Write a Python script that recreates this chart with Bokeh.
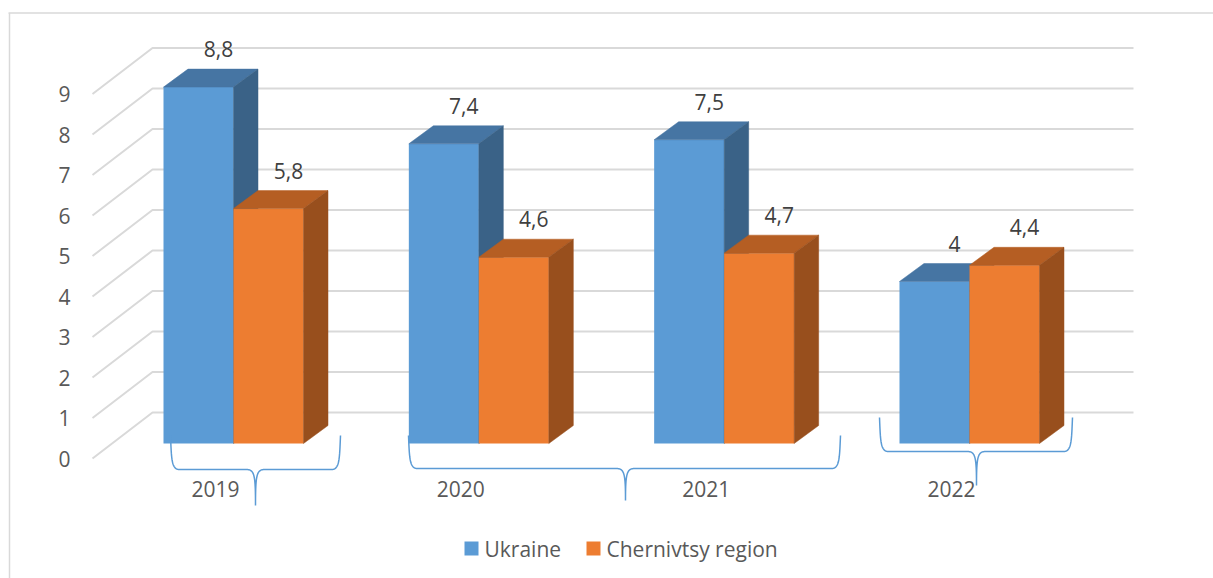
import numpy as np
from bokeh.plotting import figure
from bokeh.models import Range1d
from bokeh.core.properties import value
from bokeh.embed import file_html
from bokeh.resources import INLINE

# ---------------- data ----------------
categories = ["2019", "2020", "2021", "2022"]
series_names = ["Ukraine", "Chernivtsy region"]
ukraine = [8.8, 7.4, 7.5, 4.0]
chernivtsy = [5.8, 4.6, 4.7, 4.4]
ukraine_labels = ["8,8", "7,4", "7,5", "4"]
chernivtsy_labels = ["5,8", "4,6", "4,7", "4,4"]
y_ticks = [0, 1, 2, 3, 4, 5, 6, 7, 8, 9]
y_tick_labels = [str(t) for t in y_ticks]

# ---------------- geometry / style ----------------
PAGE_OFF = 0              # observed page offset of the figure
W, H = 1213, 578
SLOT_PX = 245.33          # px per category slot
UNIT_PX = 40.5            # px per value unit
ORIGIN_X = 233            # page x of slot 0 centre
ORIGIN_Y = 443            # page y of value 0 (bar baseline)


def px2x(sx):
    return (sx - ORIGIN_X) / SLOT_PX


def px2y(sy):
    return (ORIGIN_Y - sy) / UNIT_PX


def dxp(px):
    return px / SLOT_PX


def dyp(px):
    return px / UNIT_PX


FONT = value("Open Sans")
GREY_TXT = "#595959"
LABEL_TXT = "#404040"
GRID = "#D9D9D9"

p = figure(width=W, height=H, output_backend="svg", toolbar_location=None,
           x_range=Range1d(px2x(PAGE_OFF), px2x(PAGE_OFF + W)),
           y_range=Range1d(px2y(PAGE_OFF + H), px2y(PAGE_OFF)),
           min_border=0)
p.xaxis.visible = False
p.yaxis.visible = False
p.grid.visible = False
p.outline_line_color = None
p.background_fill_color = "white"
p.border_fill_color = "white"

# chart border (top and left visible)
p.line([px2x(8), px2x(1213)], [px2y(12.5), px2y(12.5)], line_color=GRID, line_width=1.5)
p.line([px2x(9), px2x(9)], [px2y(12.5), px2y(578)], line_color=GRID, line_width=1.5)

# 3D back-wall gridlines
f_off = dyp(-15)
b_off = dyp(31)
gxs, gys = [], []
for t in y_ticks:
    gxs.append([px2x(92), px2x(152), px2x(1133)])
    gys.append([t + f_off, t + b_off, t + b_off])
p.multi_line(gxs, gys, line_color=GRID, line_width=2)

# tick labels
p.text(x=[px2x(70)] * len(y_ticks), y=[t + f_off for t in y_ticks], text=y_tick_labels,
       text_font=FONT, text_font_size="21px", text_color=GREY_TXT,
       text_align="right", text_baseline="middle")

# 3D bars
bw = dxp(70)
ddx = dxp(24.5)
ddy = dyp(18)

series = [
    (ukraine, ukraine_labels, ("#5B9BD5", "#4675A3", "#3A6287"), -1),
    (chernivtsy, chernivtsy_labels, ("#ED7D31", "#B55E23", "#984F1D"), 0),
]
for vals, labels, (cf, ct, cs), shift in series:
    lefts = [i + shift * bw for i in range(len(categories))]
    rights = [l + bw for l in lefts]
    p.quad(left=lefts, right=rights, bottom=0, top=vals, fill_color=cf, line_color=None)
    txs, tys, sxs, sys_ = [], [], [], []
    for l, r, v in zip(lefts, rights, vals):
        txs.append([l, l + ddx, r + ddx, r])
        tys.append([v, v + ddy, v + ddy, v])
        sxs.append([r, r, r + ddx, r + ddx])
        sys_.append([0, v, v + ddy, ddy])
    p.patches(txs, tys, fill_color=ct, line_color=ct, line_width=0.5)
    p.patches(sxs, sys_, fill_color=cs, line_color=cs, line_width=0.5)
    p.text(x=[(l + r) / 2 + dxp(20) for l, r in zip(lefts, rights)],
           y=[v + ddy + dyp(20) for v in vals], text=labels,
           text_font=FONT, text_font_size="21px", text_color=LABEL_TXT,
           text_align="center", text_baseline="middle")

# category labels
p.text(x=[i + dxp(-18) for i in range(len(categories))], y=[px2y(488)] * len(categories),
       text=categories, text_font=FONT, text_font_size="21px", text_color=GREY_TXT,
       text_align="center", text_baseline="middle")


# hand-drawn braces (annotation shapes, page px)
def cubic(p0, p1, p2, p3, n=24):
    t = np.linspace(0, 1, n)[:, None]
    return ((1 - t) ** 3) * p0 + 3 * ((1 - t) ** 2) * t * p1 + 3 * (1 - t) * t ** 2 * p2 + t ** 3 * p3


def brace(xl, xr, xm, ytop, yh, ytip, r=9):
    P = np.array
    s1 = cubic(P([xl, ytop]), P([xl + 1, yh - 10]), P([xl + 1, yh]), P([xl + r, yh]))
    s2 = cubic(P([xm - r, yh]), P([xm - 1, yh]), P([xm, yh + 6]), P([xm, ytip]))
    s3 = cubic(P([xm, ytip]), P([xm, yh + 6]), P([xm + 1, yh]), P([xm + r, yh]))
    s4 = cubic(P([xr - r, yh]), P([xr - 1, yh]), P([xr - 1, yh - 10]), P([xr, ytop]))
    pts = np.vstack([s1, s2, s3, s4])
    return [px2x(v) for v in pts[:, 0]], [px2y(v) for v in pts[:, 1]]


braces = [(170, 340, 255, 435, 469, 505), (408, 840, 625, 435, 468, 500), (879, 1072, 976, 417, 451, 485)]
bx, by = [], []
for b in braces:
    xs_, ys_ = brace(*b)
    bx.append(xs_)
    by.append(ys_)
p.multi_line(bx, by, line_color="#5B9BD5", line_width=1.5)

# legend (manual)
leg_y = px2y(548)
p.rect(x=[px2x(471), px2x(593)], y=[leg_y, leg_y], width=14, height=14,
       width_units="screen", height_units="screen",
       fill_color=["#5B9BD5", "#ED7D31"], line_color=None)
p.text(x=[px2x(484), px2x(606)], y=[leg_y, leg_y], text=series_names,
       text_font=FONT, text_font_size="21px", text_color=GREY_TXT,
       text_align="left", text_baseline="middle")

open("out.html", "w").write(file_html(p, INLINE))
